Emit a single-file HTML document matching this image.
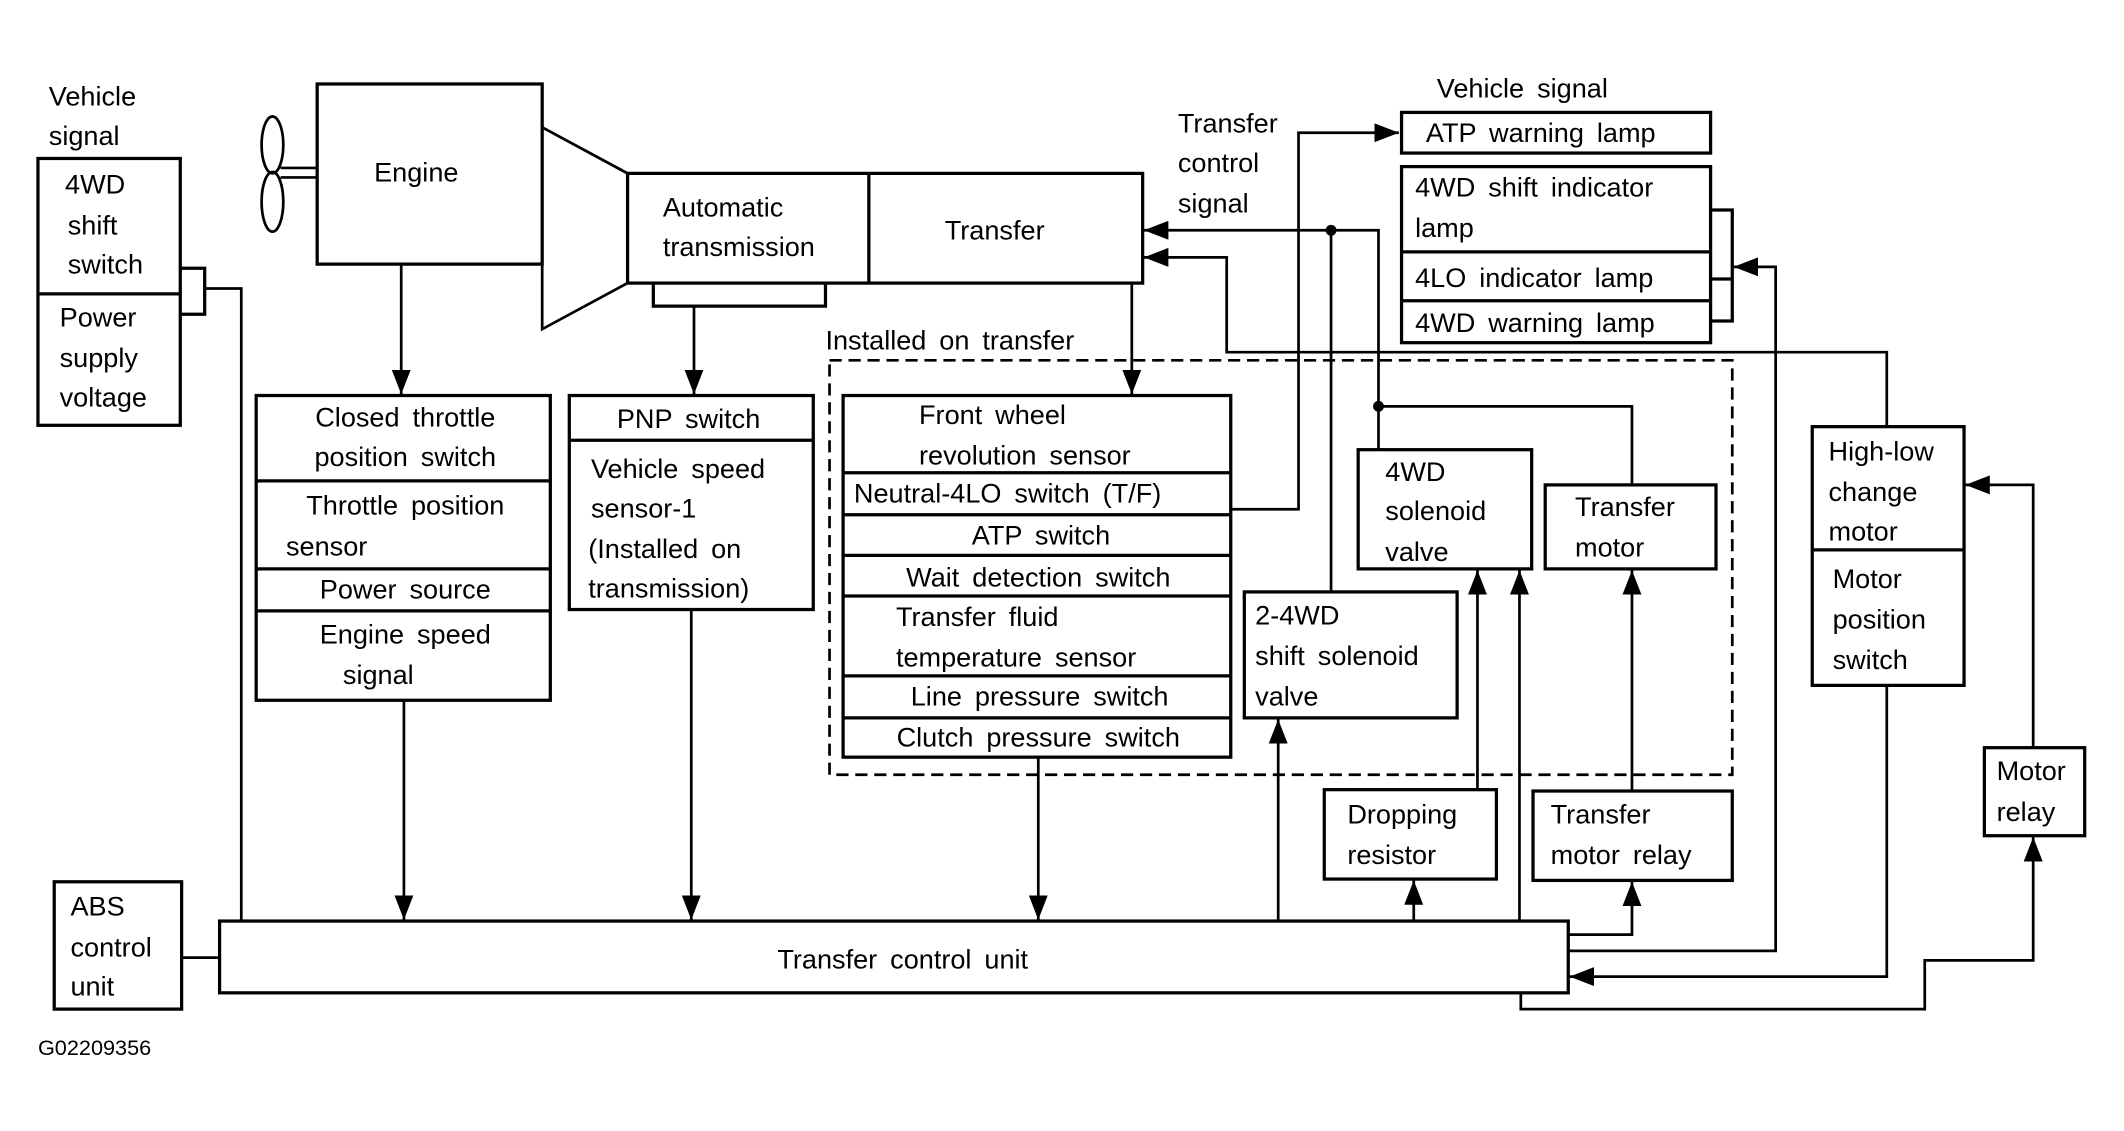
<!DOCTYPE html>
<html><head><meta charset="utf-8"><style>
html,body{margin:0;padding:0;background:#fff;width:2124px;height:1131px;overflow:hidden}
svg{display:block}
text{font-family:"Liberation Sans",Arial,sans-serif;font-size:20px;fill:#000;word-spacing:4px}
.b{fill:none;stroke:#000;stroke-width:2.4}
.l{fill:none;stroke:#000;stroke-width:2}
.c{text-anchor:middle}
</style></head><body>
<svg width="2124" height="1131" viewBox="0 0 1567 835" preserveAspectRatio="none" xmlns="http://www.w3.org/2000/svg">
<defs>
<marker id="a" markerUnits="userSpaceOnUse" markerWidth="20" markerHeight="14" refX="18" refY="7" orient="auto"><path d="M0,0 L18,7 L0,14 Z" fill="#000"/></marker>
</defs>
<text x="36" y="78">Vehicle</text><text x="36" y="107">signal</text>
<rect class="b" x="28" y="117" width="105" height="197"/><line class="b" x1="28" y1="217" x2="133" y2="217"/>
<text x="48" y="143">4WD</text><text x="50" y="173">shift</text><text x="50" y="202">switch</text>
<text x="44" y="241">Power</text><text x="44" y="271">supply</text><text x="44" y="300">voltage</text>
<polyline class="b" points="133,198 151,198 151,232 133,232"/>
<polyline class="l" points="151,213 178,213 178,680"/>
<ellipse class="l" cx="201" cy="107" rx="8" ry="21"/><ellipse class="l" cx="201" cy="149" rx="8" ry="22"/>
<line class="l" x1="207" y1="124" x2="234" y2="124"/><line class="l" x1="207" y1="131" x2="234" y2="131"/>
<rect class="b" x="234" y="62" width="166" height="133"/><text x="276" y="134">Engine</text>
<polyline class="l" points="400,195 400,243 463,209"/><line class="l" x1="400" y1="94" x2="463" y2="128"/>
<rect class="b" x="463" y="128" width="380" height="81"/><line class="b" x1="641" y1="128" x2="641" y2="209"/>
<text x="489" y="160">Automatic</text><text x="489" y="189">transmission</text><text x="697" y="177">Transfer</text>
<polyline class="b" points="482,209 482,226 609,226 609,209"/>
<line class="l" x1="296" y1="195" x2="296" y2="291" marker-end="url(#a)"/>
<line class="l" x1="512" y1="226" x2="512" y2="291" marker-end="url(#a)"/>
<line class="l" x1="835" y1="209" x2="835" y2="291" marker-end="url(#a)"/>
<rect class="b" x="189" y="292" width="217" height="225"/>
<line class="b" x1="189" y1="355" x2="406" y2="355"/><line class="b" x1="189" y1="420" x2="406" y2="420"/><line class="b" x1="189" y1="451" x2="406" y2="451"/>
<text class="c" x="299" y="315">Closed throttle</text><text class="c" x="299" y="344">position switch</text>
<text class="c" x="299" y="380">Throttle position</text><text x="211" y="410">sensor</text>
<text class="c" x="299" y="442">Power source</text><text class="c" x="299" y="475">Engine speed</text><text x="253" y="505">signal</text>
<line class="l" x1="298" y1="517" x2="298" y2="679" marker-end="url(#a)"/>
<rect class="b" x="420" y="292" width="180" height="158"/><line class="b" x1="420" y1="325" x2="600" y2="325"/>
<text class="c" x="508" y="316">PNP switch</text><text x="436" y="353">Vehicle speed</text><text x="436" y="382">sensor-1</text>
<text x="434" y="412">(Installed on</text><text x="434" y="441">transmission)</text>
<line class="l" x1="510" y1="450" x2="510" y2="679" marker-end="url(#a)"/>
<text x="609" y="258">Installed on transfer</text>
<rect x="612" y="266" width="666" height="306" fill="none" stroke="#000" stroke-width="2" stroke-dasharray="9,5"/>
<rect class="b" x="622" y="292" width="286" height="267"/>
<line class="b" x1="622" y1="349" x2="908" y2="349"/><line class="b" x1="622" y1="380" x2="908" y2="380"/><line class="b" x1="622" y1="410" x2="908" y2="410"/>
<line class="b" x1="622" y1="440" x2="908" y2="440"/><line class="b" x1="622" y1="499" x2="908" y2="499"/><line class="b" x1="622" y1="530" x2="908" y2="530"/>
<text x="678" y="313">Front wheel</text><text x="678" y="343">revolution sensor</text>
<text x="630" y="371">Neutral-4LO switch (T/F)</text><text class="c" x="768" y="402">ATP switch</text>
<text class="c" x="766" y="433">Wait detection switch</text><text x="661" y="462">Transfer fluid</text><text x="661" y="492">temperature sensor</text>
<text class="c" x="767" y="521">Line pressure switch</text><text class="c" x="766" y="551">Clutch pressure switch</text>
<line class="l" x1="766" y1="559" x2="766" y2="679" marker-end="url(#a)"/>
<polyline class="l" points="908,376 958,376 958,98 1032,98" marker-end="url(#a)"/>
<text x="869" y="98">Transfer</text><text x="869" y="127">control</text><text x="869" y="157">signal</text>
<text x="1060" y="72">Vehicle signal</text>
<rect class="b" x="1034" y="83" width="228" height="30"/><text x="1052" y="105">ATP warning lamp</text>
<rect class="b" x="1034" y="123" width="228" height="130"/><line class="b" x1="1034" y1="186" x2="1262" y2="186"/><line class="b" x1="1034" y1="222" x2="1262" y2="222"/>
<text x="1044" y="145">4WD shift indicator</text><text x="1044" y="175">lamp</text><text x="1044" y="212">4LO indicator lamp</text><text x="1044" y="245">4WD warning lamp</text>
<polyline class="b" points="1262,155 1278,155 1278,237 1262,237"/><line class="b" x1="1262" y1="206" x2="1278" y2="206"/>
<polyline class="l" points="1157,702 1310,702 1310,197 1279,197" marker-end="url(#a)"/>
<polyline class="l" points="1017,332 1017,170 844,170" marker-end="url(#a)"/>
<circle cx="1017" cy="300" r="4"/><circle cx="982" cy="170" r="4"/>
<polyline class="l" points="1017,300 1204,300 1204,358"/>
<line class="l" x1="982" y1="170" x2="982" y2="437"/>
<polyline class="l" points="1392,315 1392,260 905,260 905,190 844,190" marker-end="url(#a)"/>
<rect class="b" x="1337" y="315" width="112" height="191"/><line class="b" x1="1337" y1="406" x2="1449" y2="406"/>
<text x="1349" y="340">High-low</text><text x="1349" y="370">change</text><text x="1349" y="399">motor</text>
<text x="1352" y="434">Motor</text><text x="1352" y="464">position</text><text x="1352" y="494">switch</text>
<polyline class="l" points="1392,506 1392,721 1158,721" marker-end="url(#a)"/>
<polyline class="l" points="1500,552 1500,358 1450,358" marker-end="url(#a)"/>
<rect class="b" x="1464" y="552" width="74" height="65"/><text x="1473" y="576">Motor</text><text x="1473" y="606">relay</text>
<polyline class="l" points="1122,733 1122,745 1420,745 1420,709 1500,709 1500,618" marker-end="url(#a)"/>
<rect class="b" x="1002" y="332" width="128" height="88"/><text x="1022" y="355">4WD</text><text x="1022" y="384">solenoid</text><text x="1022" y="414">valve</text>
<rect class="b" x="1140" y="358" width="126" height="62"/><text x="1162" y="381">Transfer</text><text x="1162" y="411">motor</text>
<rect class="b" x="918" y="437" width="157" height="93"/><text x="926" y="461">2-4WD</text><text x="926" y="491">shift solenoid</text><text x="926" y="521">valve</text>
<line class="l" x1="943" y1="680" x2="943" y2="531" marker-end="url(#a)"/>
<line class="l" x1="1090" y1="583" x2="1090" y2="421" marker-end="url(#a)"/>
<line class="l" x1="1121" y1="680" x2="1121" y2="421" marker-end="url(#a)"/>
<rect class="b" x="977" y="583" width="127" height="66"/><text x="994" y="608">Dropping</text><text x="994" y="638">resistor</text>
<line class="l" x1="1043" y1="680" x2="1043" y2="650" marker-end="url(#a)"/>
<rect class="b" x="1131" y="584" width="147" height="66"/><text x="1144" y="608">Transfer</text><text x="1144" y="638">motor relay</text>
<line class="l" x1="1204" y1="584" x2="1204" y2="421" marker-end="url(#a)"/>
<polyline class="l" points="1157,690 1204,690 1204,651" marker-end="url(#a)"/>
<rect class="b" x="162" y="680" width="995" height="53"/><text class="c" x="666" y="715">Transfer control unit</text>
<rect class="b" x="40" y="651" width="94" height="94"/><text x="52" y="676">ABS</text><text x="52" y="706">control</text><text x="52" y="735">unit</text>
<line class="l" x1="134" y1="707" x2="162" y2="707"/>
<text x="28" y="779" style="font-size:16px">G02209356</text>
</svg>
</body></html>
